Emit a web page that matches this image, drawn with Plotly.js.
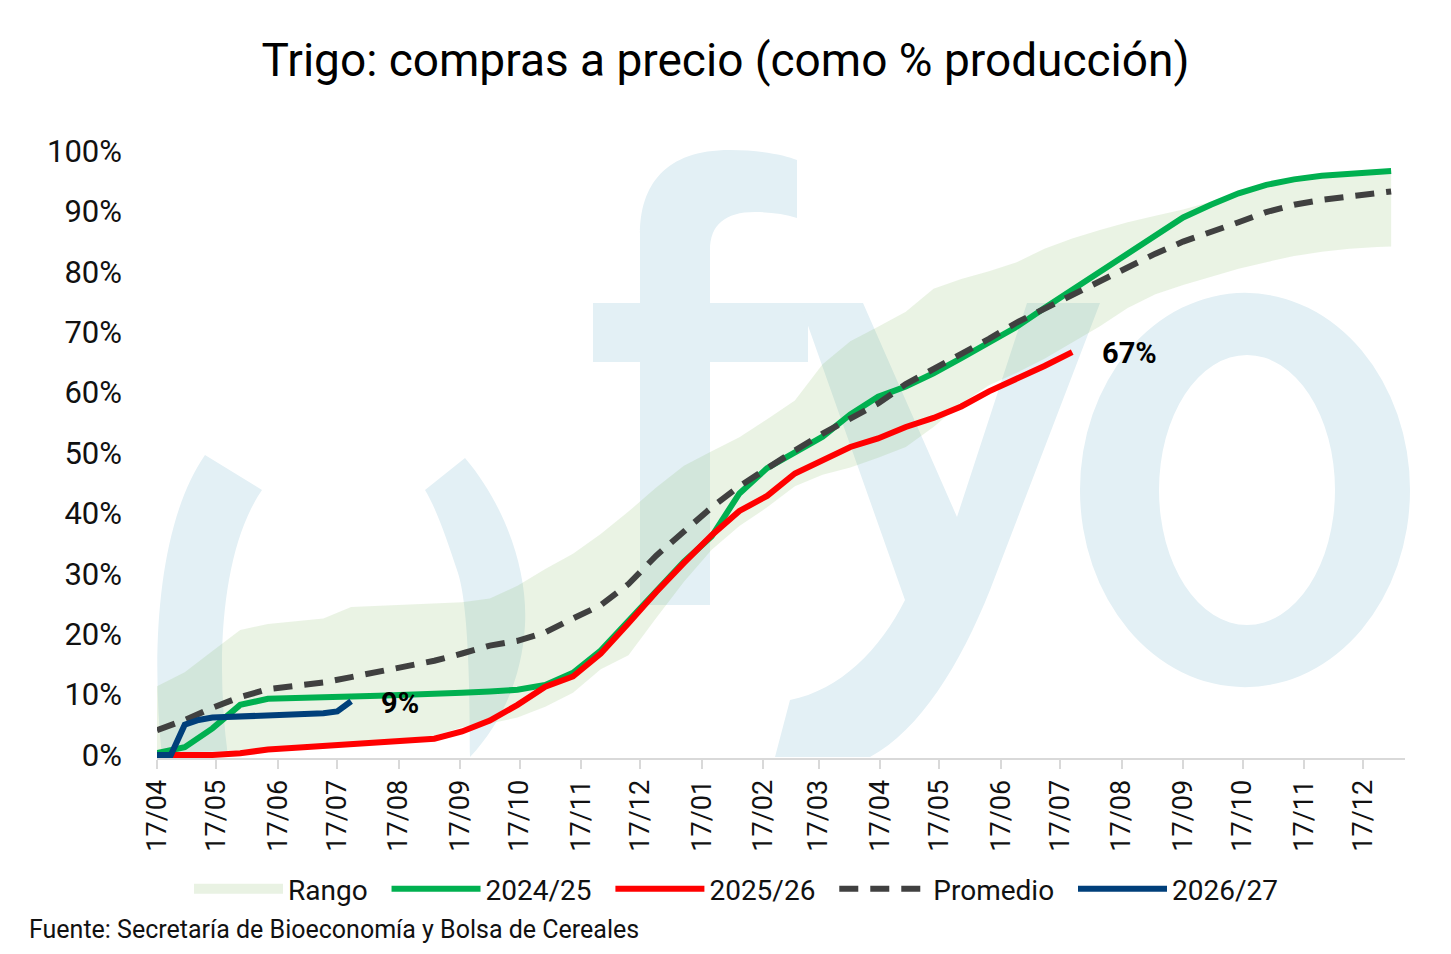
<!DOCTYPE html>
<html>
<head>
<meta charset="utf-8">
<script src="https://cdn.plot.ly/plotly-3.0.1.min.js"></script>
<style>
    body {margin:0; background:#fff;}
    #chart1 {width:1451px; height:954px; outline:3px solid #e2e2e2; outline-offset:-3px;}
</style>
</head>
<body>
<div id="chart1"></div>
<script>

// fechas quincenales (eje generico de campaña)
var fechas = [
    '2025-04-17','2025-05-01','2025-05-15','2025-05-29','2025-06-12','2025-06-26','2025-07-10','2025-07-24',
    '2025-08-07','2025-08-21','2025-09-04','2025-09-18','2025-10-02','2025-10-16','2025-10-30','2025-11-13',
    '2025-11-27','2025-12-11','2025-12-25','2026-01-08','2026-01-22','2026-02-05','2026-02-19','2026-03-05',
    '2026-03-19','2026-04-02','2026-04-16','2026-04-30','2026-05-14','2026-05-28','2026-06-11','2026-06-25',
    '2026-07-09','2026-07-23','2026-08-06','2026-08-20','2026-09-03','2026-09-17','2026-10-01','2026-10-15',
    '2026-10-29','2026-11-12','2026-11-26','2026-12-10','2026-12-24','2026-12-31'
]

// % de la produccion
var rangoMin = [0.3,0.5,0.6,0.8,1.2,1.5,1.8,2.1,2.4,2.8,3.2,4.6,5.2,6.2,8.0,10.3,14.2,16.5,22.7,28.7,34.0,37.9,41.0,44.5,
                46.4,47.6,49.2,51.0,54.3,58.2,61.2,63.3,65.6,68.3,71.0,74.0,76.3,77.8,79.2,80.5,81.6,82.6,83.3,83.8,84.1,84.2]
var rangoMax = [11.4,13.7,17.2,20.7,21.7,22.2,22.6,24.5,24.7,24.9,25.1,25.3,25.9,28.0,30.8,33.3,36.6,40.3,44.3,47.9,50.3,52.6,55.6,58.7,
                64.7,68.5,70.9,73.4,77.2,78.8,80.1,81.6,83.8,85.5,86.9,88.2,89.3,90.3,91.6,93.4,94.8,95.6,96.2,96.5,96.8,96.9]
var camp2425 = [0.3,1.3,4.4,8.3,9.3,9.5,9.6,9.7,9.8,9.9,10.1,10.3,10.5,10.8,11.6,13.6,17.3,22.3,27.3,32.0,36.2,43.3,47.5,50.2,
                52.7,56.4,59.3,61.0,63.2,65.7,68.3,70.9,74.0,77.0,79.9,83.0,85.8,89.0,91.1,93.0,94.4,95.3,95.9,96.2,96.5,96.7]
var camp2526 = [0,0,0,0.3,0.9,1.2,1.5,1.7,1.9,2.2,2.7,3.9,5.7,8.3,11.3,13.0,16.8,21.8,27.0,31.8,36.4,40.4,42.9,46.6,
                48.9,51.0,52.4,54.3,55.8,57.7,60.2,62.2,64.4,66.7]
var promedio = [4.1,5.8,7.8,9.6,10.9,11.4,12.0,12.9,13.8,14.6,15.6,16.8,18.1,18.9,20.3,22.6,24.8,28.3,33.0,37.0,41.0,44.5,47.5,50.4,
                53.2,55.8,58.2,61.4,63.9,66.3,68.9,71.6,73.9,76.3,78.6,80.7,83.0,85.0,86.5,88.2,89.9,91.1,91.9,92.5,93.1,93.3]

// 2026/27 semanal
var fechas2627 = ['2025-04-17','2025-04-24','2025-05-01','2025-05-08','2025-05-15','2025-05-22','2025-05-29','2025-06-05',
                  '2025-06-12','2025-06-19','2025-06-26','2025-07-03','2025-07-10','2025-07-17','2025-07-24']
var camp2627 = [0,0,5.0,5.8,6.2,6.3,6.4,6.5,6.5,6.6,6.6,6.7,6.9,7.2,8.9]

var tickFechas = ['2025-04-17','2025-05-17','2025-06-17','2025-07-17','2025-08-17','2025-09-17','2025-10-17','2025-11-17',
                  '2025-12-17','2026-01-17','2026-02-17','2026-03-17','2026-04-17','2026-05-17','2026-06-17','2026-07-17',
                  '2026-08-17','2026-09-17','2026-10-17','2026-11-17','2026-12-17']
var tickTexto = ['17/04','17/05','17/06','17/07','17/08','17/09','17/10','17/11','17/12','17/01','17/02','17/03',
                 '17/04','17/05','17/06','17/07','17/08','17/09','17/10','17/11','17/12']


var pct = function (arr) { return arr.map(function (v) {return v/100}) }
var fuente = 'Liberation Sans Narrow, Roboto, sans-serif'
var sp = '\u00a0\u00a0'   // aire entre items de la leyenda


// marca de agua fyo (coordenadas de pixel de la figura)
var wmColor = '#e3f0f5'
var wmSvg = '<svg xmlns="http://www.w3.org/2000/svg" width="1451" height="954" viewBox="0 0 1451 954" preserveAspectRatio="none">' +
    '<g fill="' + wmColor + '">' +
    '<path d="M205,455 C160,520 150,640 162,757 L228,757 C214,650 224,545 262,490 Z"/>' +
    '<path d="M425,490 L465,458 C505,505 528,570 525,625 C522,680 500,725 470,757 C470,680 468,600 457,570 C447,540 437,510 425,490 Z"/>' +
    '<path d="M640,605 L640,235 C640,185 665,150 730,150 C760,150 785,155 797,160 L797,218 C785,214 770,212 755,212 C725,212 710,225 710,250 L710,605 Z"/>' +
    '<path d="M593,303 L808,303 L808,362 L593,362 Z"/>' +
    '<path d="M800,303 L863,303 L957,517 L1027,303 L1100,303 L990,590 C960,665 920,730 870,757 L775,757 L790,700 C840,690 880,650 905,600 Z"/>' +
    '<path fill-rule="evenodd" d="M1080,490 A165,197 0 1,0 1410,490 A165,197 0 1,0 1080,490 Z M1159,490 A88,135 0 1,0 1335,490 A88,135 0 1,0 1159,490 Z"/>' +
    '</g></svg>'


var traces = [
    {
        x: fechas, y: pct(rangoMin),
        type: 'scatter', mode: 'lines',
        line: {width: 0, color: 'rgba(112,173,71,0)'},
        showlegend: false, hoverinfo: 'skip',
    },
    {
        x: fechas, y: pct(rangoMax), name: 'Rango',
        type: 'scatter', mode: 'lines', fill: 'tonexty',
        fillcolor: 'rgba(112,173,71,0.15)',
        line: {width: 0, color: 'rgba(112,173,71,0)'},
        showlegend: false, legendgroup: 'rango',
    },
    {
        // solo para la muestra de la leyenda
        x: [fechas[0]], y: [null], name: 'Rango' + sp,
        type: 'scatter', mode: 'lines',
        line: {width: 22, color: 'rgb(233,242,227)'},
        legendgroup: 'rango',
    },
    {
        x: fechas, y: pct(camp2425), name: '2024/25' + sp,
        type: 'scatter', mode: 'lines',
        line: {width: 6, color: '#00b050'},
    },
    {
        x: fechas.slice(0, camp2526.length), y: pct(camp2526), name: '2025/26' + sp,
        type: 'scatter', mode: 'lines',
        line: {width: 6, color: '#ff0000'},
    },
    {
        x: fechas, y: pct(promedio), name: 'Promedio' + sp,
        type: 'scatter', mode: 'lines',
        line: {width: 6, color: '#404040', dash: '19px,12px'},
    },
    {
        x: fechas2627, y: pct(camp2627), name: '2026/27',
        type: 'scatter', mode: 'lines',
        line: {width: 6, color: '#003f7a'},
    },
]


var L = 157, R = 1405, T = 151, B = 758
var plotW = R - L, plotH = B - T

var layout = {
    width: 1451,
    height: 954,
    margin: {l: L, r: 1451 - R, t: T, b: 954 - B},
    paper_bgcolor: '#fff',
    plot_bgcolor: 'rgba(0,0,0,0)',
    font: {family: fuente, color: '#111'},
    title: {
        text: 'Trigo: compras a precio (como % producción)',
        font: {family: fuente, size: 46, color: '#000'},
        x: 0.5, xanchor: 'center',
        y: 1 - 60/954, yanchor: 'middle',
    },
    showlegend: true,
    legend: {
        orientation: 'h',
        x: (736 - L)/plotW, xanchor: 'center',
        y: -(889 - B)/plotH, yanchor: 'middle',
        font: {family: fuente, size: 28, color: '#111'},
        itemwidth: 89,
        traceorder: 'normal',
    },
    xaxis: {
        type: 'date',
        range: ['2025-04-17', '2027-01-07'],
        tickvals: tickFechas,
        ticktext: tickTexto,
        tickangle: -90,
        tickfont: {family: fuente, size: 27, color: '#111'},
        showgrid: false,
        zeroline: false,
        showline: true,
        linecolor: '#d9d9d9',
        linewidth: 2,
        ticks: 'outside',
        ticklen: 9,
        tickwidth: 2,
        tickcolor: '#d9d9d9',
        fixedrange: true,
    },
    yaxis: {
        range: [-0.005, 1.0],
        tickvals: [0,0.1,0.2,0.3,0.4,0.5,0.6,0.7,0.8,0.9,1.0],
        tickformat: '.0%',
        tickfont: {family: fuente, size: 31, color: '#111'},
        showgrid: false,
        zeroline: false,
        showline: false,
        ticks: '',
        ticklabelstandoff: 34,
        fixedrange: true,
    },
    images: [{
        source: 'data:image/svg+xml;charset=utf-8,' + encodeURIComponent(wmSvg),
        xref: 'paper', yref: 'paper',
        x: -L/plotW, y: 1 + T/plotH,
        sizex: 1451/plotW, sizey: 954/plotH,
        xanchor: 'left', yanchor: 'top',
        sizing: 'stretch',
        layer: 'below',
    }],
    annotations: [
        {
            x: fechas2627[fechas2627.length-1], y: camp2627[camp2627.length-1]/100,
            xref: 'x', yref: 'y', text: '9%', showarrow: false,
            xanchor: 'left', yanchor: 'middle', xshift: 28, yshift: -2,
            font: {family: fuente, size: 29, color: '#000', weight: 'bold'},
        },
        {
            x: fechas[camp2526.length-1], y: camp2526[camp2526.length-1]/100,
            xref: 'x', yref: 'y', text: '67%', showarrow: false,
            xanchor: 'left', yanchor: 'middle', xshift: 28, yshift: -1,
            font: {family: fuente, size: 29, color: '#000', weight: 'bold'},
        },
        {
            x: (27 - L)/plotW, y: -(929 - B)/plotH,
            xref: 'paper', yref: 'paper', text: 'Fuente: Secretaría de Bioeconomía y Bolsa de Cereales',
            showarrow: false, xanchor: 'left', yanchor: 'middle',
            font: {family: fuente, size: 25, color: '#111'},
        },
    ],
}

Plotly.newPlot('chart1', traces, layout, {displayModeBar: false, staticPlot: true})

</script>
</body>
</html>
